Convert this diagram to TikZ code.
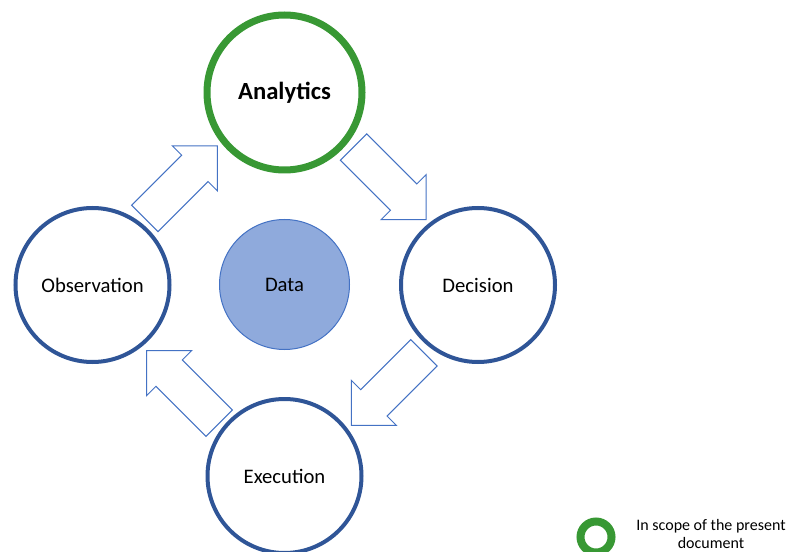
\documentclass[tikz,border=0pt]{standalone}
\usepackage{fontspec}
\setmainfont{Carlito}
\usetikzlibrary{shapes.arrows,calc}

\definecolor{ringblue}{RGB}{47,85,151}
\definecolor{arrowblue}{RGB}{68,114,196}
\definecolor{ringgreen}{RGB}{56,152,52}
\definecolor{datafill}{RGB}{143,170,220}

\tikzset{every picture/.style={line width=0.75pt}}
\tikzset{
	bluering/.style={circle,draw=ringblue,line width=3pt,minimum size=154*0.75pt,inner sep=0pt,font=\fontsize{15.5}{18}\selectfont},
	greenring/.style={circle,draw=ringgreen,line width=5.25pt,minimum size=155*0.75pt,inner sep=0pt,font=\bfseries\fontsize{18.5}{22}\selectfont},
	blockarrow/.style={single arrow,draw=arrowblue,fill=white,line width=0.75pt,inner xsep=0pt,inner ysep=13.6pt,minimum height=77pt,single arrow head extend=9.9pt,single arrow tip angle=90},
}

\begin{document}
\begin{tikzpicture}[x=0.75pt,y=0.75pt,yscale=-1,xscale=1]
	\useasboundingbox (0,0) rectangle (792,552);

	%Shape: Circle [id:data]
	\node [circle,draw=arrowblue,fill=datafill,line width=0.75pt,minimum size=130*0.75pt,inner sep=0pt,font=\fontsize{15.5}{18}\selectfont] (data) at (284.5,284.5) {Data};
	%Shape: Circle [id:ana]
	\node [greenring] (ana) at (284.5,92.5) {Analytics};
	%Shape: Circle [id:obs]
	\node [bluering] (obs) at (92.5,285) {Observation};
	%Shape: Circle [id:dec]
	\node [bluering] (dec) at (478,285) {Decision};
	%Shape: Circle [id:exe]
	\node [bluering] (exe) at (284.5,476) {Execution};

	%Shape: Right Arrow [id:obs-ana]
	\node [blockarrow,rotate=45] (obs-ana) at ($(obs)!0.5!(ana)+(-14,0)$) {};
	%Shape: Right Arrow [id:ana-dec]
	\node [blockarrow,rotate=-45] (ana-dec) at ($(ana)!0.5!(dec)+(2,-12)$) {};
	%Shape: Right Arrow [id:dec-exe]
	\node [blockarrow,rotate=-135] (dec-exe) at ($(dec)!0.5!(exe)+(13,2)$) {};
	%Shape: Right Arrow [id:exe-obs]
	\node [blockarrow,rotate=135] (exe-obs) at ($(exe)!0.5!(obs)+(1,13)$) {};

	%Shape: Circle [id:key]
	\node [circle,draw=ringgreen,line width=6pt,minimum size=31*0.75pt,inner sep=0pt] (key) at (596,537) {};
	% Text Node
	\node [align=center,font=\fontsize{12}{13}\selectfont] (keytext) at (711,534) {In scope of the present\\document};

\end{tikzpicture}
\end{document}
